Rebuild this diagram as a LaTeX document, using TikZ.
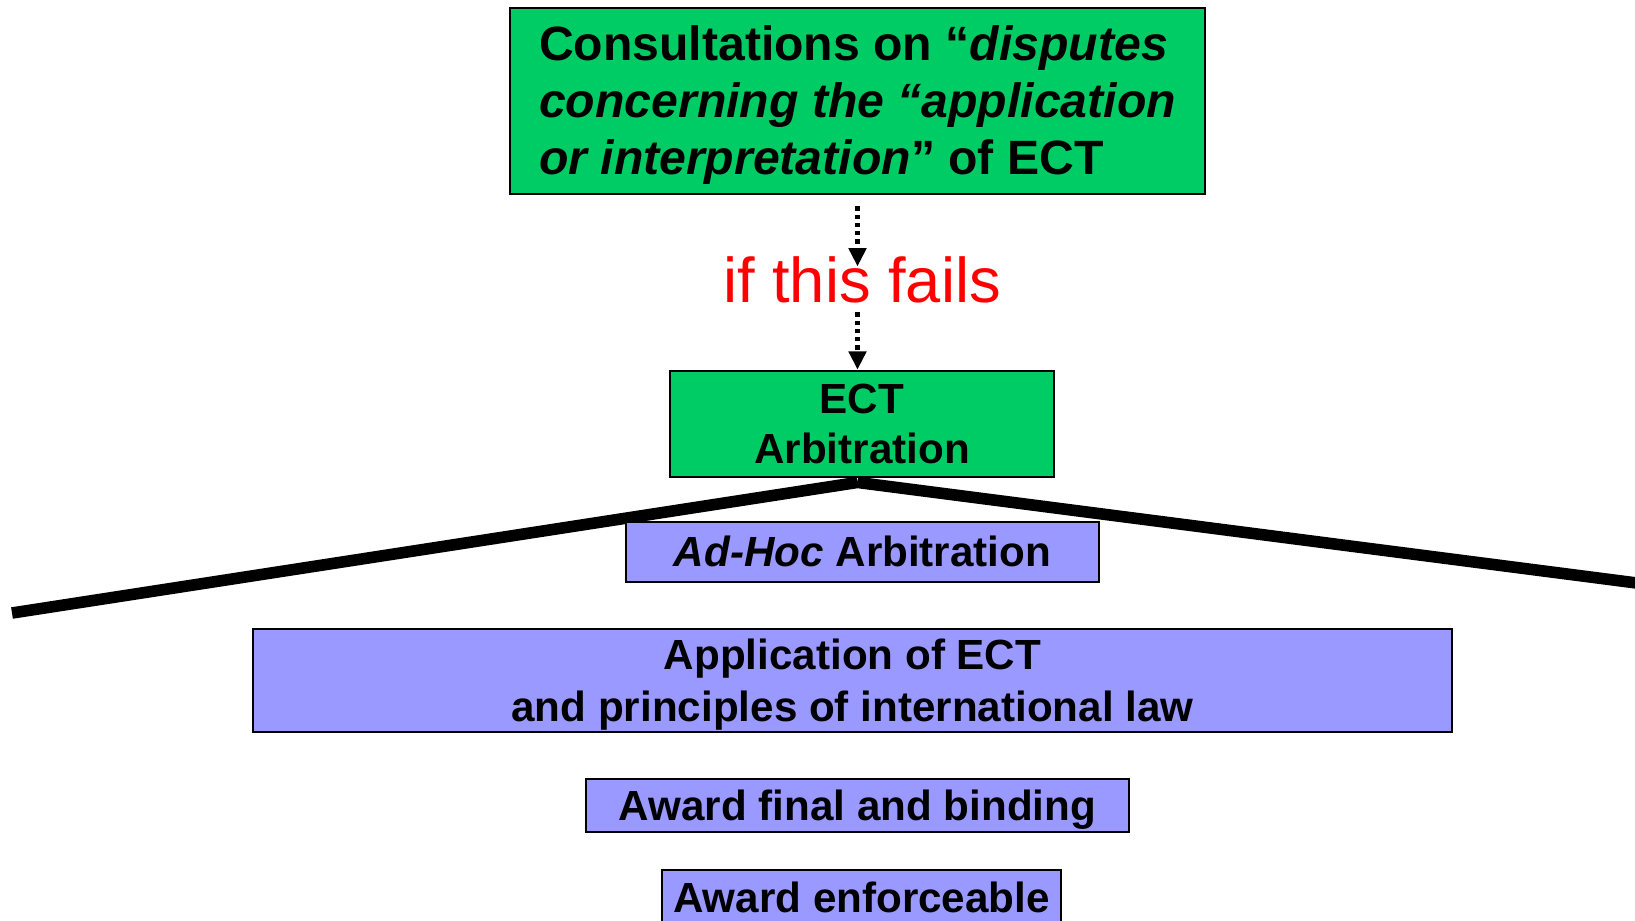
\documentclass[tikz,border=0pt]{standalone}
\usepackage{fontspec}
\setmainfont{Liberation Sans}
\usetikzlibrary{arrows.meta}
\definecolor{boxgreen}{RGB}{0,204,102}
\definecolor{boxblue}{RGB}{153,153,255}
\begin{document}
\begin{tikzpicture}[>={Triangle[width=4.9pt,length=5.2pt]},
greenbox/.style={draw=black,line width=0.8pt,fill=boxgreen,inner sep=0pt},
bluebox/.style={draw=black,line width=0.6pt,fill=boxblue,inner sep=0pt,align=center,font=\bfseries\fontsize{12}{14.8}\selectfont},
dotarrow/.style={->,line width=1.2pt,dash pattern=on 1.2pt off 1.15pt},
branch/.style={line width=3.3pt}]
\def\ls{\rule[-0.212em]{0pt}{1.117em}}
\useasboundingbox (0,0) rectangle (16.35,-9.2);
% consultations first
\node[greenbox,minimum width=6.95cm,minimum height=1.86cm,align=left,font=\bfseries\fontsize{13.7}{16.2}\selectfont] (consult) at (8.575,-1.01)
{\ls Consultations on “\textit{disputes}\\\ls\textit{concerning the “application}\\\ls\textit{or interpretation}” of ECT};
\node[text=red,font=\fontsize{18}{20}\selectfont,inner sep=0pt,anchor=base] (fails) at (8.62,-3.02) {if this fails};
\node[greenbox,minimum width=3.84cm,minimum height=1.06cm,align=center,font=\bfseries\fontsize{12}{14.2}\selectfont] (ect) at (8.62,-4.24) {\ls ECT\\\ls Arbitration};
\draw[dotarrow] ([yshift=-0.11cm]consult.south) -- ([yshift=-0.71cm]consult.south);
\draw[dotarrow] ([yshift=-1.17cm]consult.south) -- (consult.south |- ect.north);
% the two branches
\path
([xshift=-0.045cm,yshift=-0.04cm]ect.south) coordinate (apex)
(0.12,-6.13) coordinate (lend)
(16.6,-5.86) coordinate (rend);
\draw[branch] (apex)--(lend) (apex)--(rend);
% ad hoc route
\node[bluebox,minimum width=4.73cm,minimum height=0.6cm] (adhoc) at (8.625,-5.52) {\ls\textit{Ad-Hoc} Arbitration};
\node[bluebox,minimum width=11.99cm,minimum height=1.03cm] (appl) at (8.525,-6.805) {\ls Application of ECT\\\ls and principles of international law};
\node[bluebox,minimum width=5.43cm,minimum height=0.53cm] (final) at (8.575,-8.055) {\ls Award final and binding};
\node[bluebox,minimum width=3.99cm,minimum height=0.55cm] (enforce) at (8.615,-8.975) {\ls Award enforceable};
\end{tikzpicture}
\end{document}
